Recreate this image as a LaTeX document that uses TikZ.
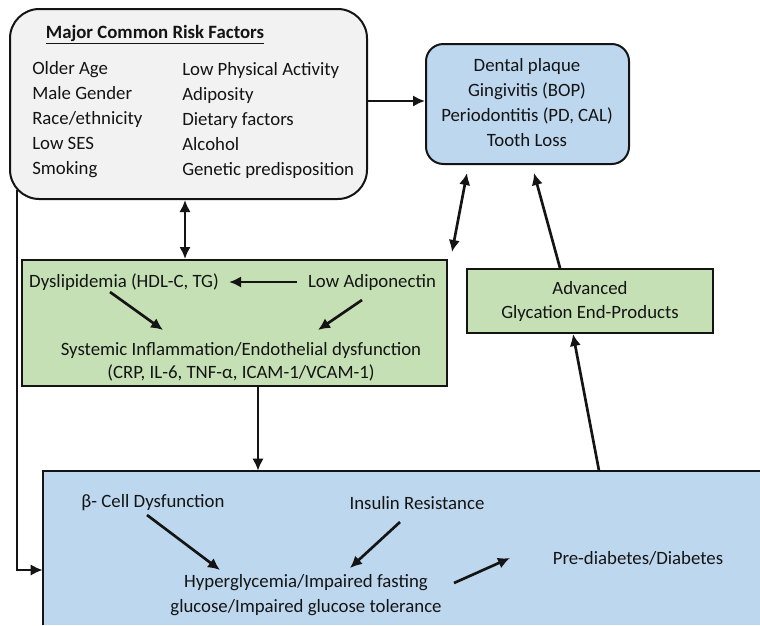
\documentclass[tikz,border=0pt]{standalone}
\usepackage{fontspec}
\setmainfont{Carlito}
\usetikzlibrary{arrows.meta,fit,calc}
\definecolor{riskfill}{HTML}{F2F2F2}
\definecolor{bluefill}{HTML}{BDD7EE}
\definecolor{greenfill}{HTML}{C5E0B4}
\definecolor{ink}{HTML}{141414}
\begin{document}
\begin{tikzpicture}[x=0.75pt,y=-0.75pt,
  box/.style={draw=ink, line width=1.5pt, inner sep=0pt},
  txt/.style={inner sep=0pt, text=ink, font=\fontsize{14.1}{18.75}\selectfont},
  txtb/.style={inner sep=0pt, text=ink, font=\fontsize{14.1}{18.75}\selectfont\bfseries},
  arr/.style={draw=ink, line width=2pt, -{Latex[length=9pt,width=8.5pt]}},
  darr/.style={draw=ink, line width=2pt, {Latex[length=9pt,width=8.5pt]}-{Latex[length=9pt,width=8.5pt]}}]
\useasboundingbox (0,0) rectangle (760,625);

% boxes
\node[box, fill=riskfill, rounded corners=22pt, fit={(10,9) (367,199)}] (risk) {};
\node[box, fill=bluefill, rounded corners=13pt, fit={(426,44) (629,164)}] (dental) {};
\node[box, fill=greenfill, fit={(22,260) (447,386)}] (green) {};
\node[box, fill=greenfill, fit={(467,269) (713,333)}] (age) {};
\node[fill=bluefill, inner sep=0pt, fit={(43,471) (762,625)}] (bot) {};
\draw[ink, line width=1.5pt] (bot.south west) -- (bot.north west) -- (bot.north east);

% risk texts
\node[txtb] (title) at (155,35) {\underline{Major Common Risk Factors}};
\node[txt, anchor=west, align=left] (colL) at (32,120) {Older Age\\Male Gender\\Race/ethnicity\\Low SES\\Smoking};
\node[txt, anchor=west, align=left] (colR) at (182,120) {Low Physical Activity\\Adiposity\\Dietary factors\\Alcohol\\Genetic predisposition};

% dental texts
\node[txt, align=center] (dtext) at (527,103) {Dental plaque\\Gingivitis (BOP)\\Periodontitis (PD, CAL)\\Tooth Loss};

% green texts
\node[txt] (dys) at (124,282) {Dyslipidemia (HDL-C, TG)};
\node[txt] (adip) at (372,282) {Low Adiponectin};
\node[txt, align=center, font=\fontsize{14.1}{17.5}\selectfont] (sys) at (241,362) {Systemic Inflammation/Endothelial dysfunction\\(CRP, IL-6, TNF-α, ICAM-1/VCAM-1)};

% AGE text
\node[txt, align=center, font=\fontsize{14.1}{18}\selectfont] (agetext) at (590,301) {Advanced\\Glycation End-Products};

% bottom texts
\node[txt] (beta) at (153,503) {β- Cell Dysfunction};
\node[txt] (ins) at (417,503) {Insulin Resistance};
\node[txt, align=center] (hyper) at (306,595) {Hyperglycemia/Impaired fasting\\glucose/Impaired glucose tolerance};
\node[txt] (pre) at (638,558) {Pre-diabetes/Diabetes};

% coordinates
\coordinate (rx) at (185,0);
\coordinate (ry) at (0,101);
\coordinate (gx) at (258,0);
\coordinate (lstart) at (17,190);
\coordinate (ly) at (0,570);
\coordinate (d1) at (452,252);
\coordinate (d2) at (467,173);
\coordinate (a1) at (560,0);
\coordinate (a2) at (534,173);
\coordinate (b1) at (599,0);
\coordinate (b2) at (573,0);
\coordinate (g1) at (110,292);
\coordinate (g2) at (163,330);
\coordinate (g3) at (362,300);
\coordinate (g4) at (318,330);
\coordinate (h1) at (147,515);
\coordinate (h2) at (220,570);
\coordinate (h3) at (400,522);
\coordinate (h4) at (350,568);
\coordinate (h5) at (454,583);
\coordinate (h6) at (510,558);

% connectors
\draw[arr] (risk.east |- ry) -- (dental.west |- ry);
\draw[darr] (risk.south -| rx) -- (green.north -| rx);
\draw[arr] (green.south -| gx) -- (bot.north -| gx);
\draw[arr] (lstart) |- (bot.west |- ly);
\draw[darr] (d1) -- (d2);
\draw[arr] (age.north -| a1) -- (a2);
\draw[arr] (bot.north -| b1) -- (age.south -| b2);
\draw[arr, shorten <=8pt, shorten >=7.5pt] (adip.west) -- (dys.east);
\draw[arr] (g1) -- (g2);
\draw[arr] (g3) -- (g4);
\draw[arr] (h1) -- (h2);
\draw[arr] (h3) -- (h4);
\draw[arr] (h5) -- (h6);
\end{tikzpicture}
\end{document}
